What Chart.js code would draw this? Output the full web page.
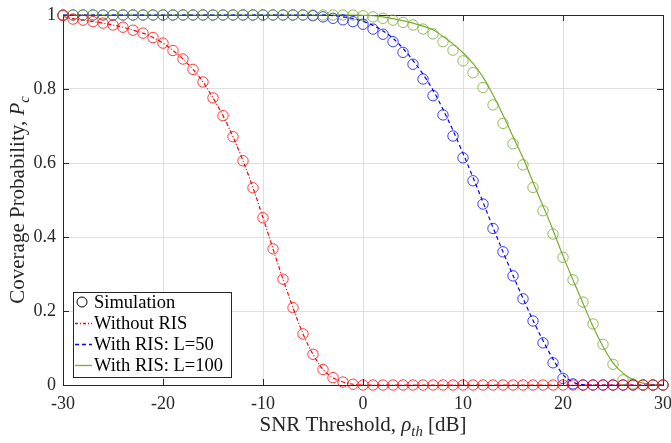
<!DOCTYPE html>
<html>
<head>
<meta charset="utf-8">
<script src="https://cdn.jsdelivr.net/npm/chart.js@4/dist/chart.umd.min.js"></script>
<style>
  html, body { margin: 0; padding: 0; background: #fff; }
</style>
</head>
<body>
<canvas id="myChart" width="671" height="443"></canvas>
<script>
// DATA
let snrDb = [-30, -29, -28, -27, -26, -25, -24, -23, -22, -21, -20, -19, -18, -17, -16, -15,
  -14, -13, -12, -11, -10, -9, -8, -7, -6, -5, -4, -3, -2, -1, 0, 1, 2, 3, 4, 5, 6, 7, 8, 9,
  10, 11, 12, 13, 14, 15, 16, 17, 18, 19, 20, 21, 22, 23, 24, 25, 26, 27, 28, 29, 30];

let xTicks = [-30, -20, -10, 0, 10, 20, 30];
let xTickLabels = ["-30", "-20", "-10", "0", "10", "20", "30"];
let yTicks = [0, 0.2, 0.4, 0.6, 0.8, 1];
let yTickLabels = ["0", "0.2", "0.4", "0.6", "0.8", "1"];

// simulation markers
let simNoRis = [0.998, 0.989, 0.986, 0.982, 0.978, 0.973, 0.967, 0.959, 0.951, 0.939,
  0.924, 0.904, 0.881, 0.853, 0.819, 0.776, 0.728, 0.671, 0.606, 0.533,
  0.452, 0.368, 0.286, 0.209, 0.138, 0.083, 0.042, 0.020, 0.008, 0.002,
  0, 0, 0, 0, 0, 0, 0, 0, 0, 0, 0, 0, 0, 0, 0, 0, 0, 0, 0, 0, 0, 0, 0, 0, 0, 0, 0, 0, 0, 0, 0];
let simL50 = [1, 1, 1, 1, 1, 1, 1, 1, 1, 1, 1, 1, 1, 1, 1, 1, 1, 1, 1, 1, 1, 1, 1, 1, 1,
  0.998, 0.995, 0.991, 0.987, 0.982, 0.975, 0.962, 0.948, 0.928, 0.899, 0.867, 0.827, 0.782,
  0.730, 0.673, 0.614, 0.552, 0.489, 0.423, 0.360, 0.295, 0.233, 0.173, 0.114, 0.060, 0.018, 0.003,
  0, 0, 0, 0, 0, 0, 0, 0, 0];
let simL100 = [1, 1, 1, 1, 1, 1, 1, 1, 1, 1, 1, 1, 1, 1, 1, 1, 1, 1, 1, 1, 1, 1, 1, 1, 1, 1, 1, 1, 1, 1,
  0.998, 0.995, 0.991, 0.986, 0.980, 0.973, 0.962, 0.949, 0.928, 0.905, 0.876, 0.844, 0.804,
  0.757, 0.707, 0.652, 0.595, 0.534, 0.471, 0.408, 0.345, 0.284, 0.224, 0.165, 0.110, 0.056,
  0.014, 0.003, 0, 0, 0];

// analytical curves
let anaNoRis = [0.996, 0.990, 0.986, 0.982, 0.978, 0.973, 0.967, 0.959, 0.951, 0.939,
  0.924, 0.904, 0.881, 0.853, 0.819, 0.776, 0.728, 0.671, 0.606, 0.533,
  0.452, 0.368, 0.286, 0.209, 0.138, 0.083, 0.042, 0.020, 0.008, 0.002,
  0, 0, 0, 0, 0, 0, 0, 0, 0, 0, 0, 0, 0, 0, 0, 0, 0, 0, 0, 0, 0, 0, 0, 0, 0, 0, 0, 0, 0, 0, 0];
let anaL50 = [1, 1, 1, 1, 1, 1, 1, 1, 1, 1, 1, 1, 1, 1, 1, 1, 1, 1, 1, 1, 1, 1, 1, 1, 1, 1, 1,
  0.998, 0.995, 0.990, 0.983, 0.972, 0.957, 0.937, 0.910, 0.877, 0.840, 0.797, 0.745, 0.688,
  0.626, 0.561, 0.494, 0.426, 0.360, 0.296, 0.234, 0.175, 0.120, 0.070, 0.028, 0.008, 0.001,
  0, 0, 0, 0, 0, 0, 0, 0];
let anaL100 = [1, 1, 1, 1, 1, 1, 1, 1, 1, 1, 1, 1, 1, 1, 1, 1, 1, 1, 1, 1, 1, 1, 1, 1, 1, 1, 1, 1, 1, 1,
  0.999, 0.998, 0.995, 0.990, 0.985, 0.978, 0.970, 0.960, 0.942, 0.922, 0.898, 0.869, 0.832,
  0.784, 0.730, 0.671, 0.614, 0.548, 0.484, 0.419, 0.349, 0.284, 0.221, 0.158, 0.104, 0.060,
  0.032, 0.014, 0.005, 0.001, 0];

let seriesNames = ["Simulation", "Without RIS", "With RIS: L=50", "With RIS: L=100"];

// STYLE
const SERIF = "'Liberation Serif', 'DejaVu Serif', serif";
const INK = "#262626";

function pts(ys) {
  return snrDb.map((x, i) => ({ x: x, y: ys[i] }));
}

function markers(ys, color) {
  return {
    data: pts(ys), showLine: false, clip: false,
    pointStyle: "circle", pointRadius: 5.2, pointHoverRadius: 5.2,
    pointBorderWidth: 1, pointBorderColor: color, pointBackgroundColor: "rgba(0,0,0,0)"
  };
}

function curve(ys, color, dash, width) {
  return {
    data: pts(ys), showLine: true, clip: false, pointRadius: 0,
    borderColor: color, borderWidth: width, borderDash: dash,
    cubicInterpolationMode: "monotone", fill: false
  };
}

// rich text helper for subscripts / italics
function drawRich(ctx, parts, size, cx, baseY) {
  let w = 0;
  parts.forEach(p => {
    let fs = p.sub ? size * 0.7 : size;
    ctx.font = (p.italic ? "italic " : "") + fs + "px " + SERIF;
    p.w = ctx.measureText(p.t).width;
    w += p.w;
  });
  let x = cx - w / 2;
  ctx.textAlign = "left";
  ctx.textBaseline = "alphabetic";
  parts.forEach(p => {
    let fs = p.sub ? size * 0.7 : size;
    ctx.font = (p.italic ? "italic " : "") + fs + "px " + SERIF;
    ctx.fillText(p.t, x, baseY + (p.sub ? size * 0.22 : 0));
    x += p.w;
  });
}

const framePlugin = {
  id: "frame",
  beforeDatasetsDraw(chart) {
    let ctx = chart.ctx;
    let a = chart.chartArea;
    let xs = chart.scales.x, ys = chart.scales.y;
    ctx.save();
    ctx.strokeStyle = INK;
    ctx.lineWidth = 1;
    ctx.strokeRect(a.left + 0.5, a.top + 0.5, a.right - a.left, a.bottom - a.top);
    // inward ticks on all four sides
    ctx.beginPath();
    xTicks.forEach(v => {
      let px = Math.round(xs.getPixelForValue(v)) + 0.5;
      ctx.moveTo(px, a.bottom); ctx.lineTo(px, a.bottom - 6);
      ctx.moveTo(px, a.top); ctx.lineTo(px, a.top + 6);
    });
    yTicks.forEach(v => {
      let py = Math.round(ys.getPixelForValue(v)) + 0.5;
      ctx.moveTo(a.left, py); ctx.lineTo(a.left + 6, py);
      ctx.moveTo(a.right, py); ctx.lineTo(a.right - 6, py);
    });
    ctx.stroke();
    ctx.restore();
  },
  afterDraw(chart) {
    let ctx = chart.ctx;
    let a = chart.chartArea;
    ctx.save();
    ctx.fillStyle = INK;

    // axis titles
    drawRich(ctx, [
      { t: "SNR Threshold, " }, { t: "\u03C1", italic: true },
      { t: "th", italic: true, sub: true }, { t: " [dB]" }
    ], 21, (a.left + a.right) / 2, 431);

    ctx.save();
    ctx.translate(24, (a.top + a.bottom) / 2);
    ctx.rotate(-Math.PI / 2);
    drawRich(ctx, [
      { t: "Coverage Probability, " }, { t: "P", italic: true },
      { t: "c", italic: true, sub: true }
    ], 21, 0, 0);
    ctx.restore();

    // legend
    let lx = a.left + 10, ly = 292, lw = 158, lh = 85;
    ctx.fillStyle = "#fff";
    ctx.fillRect(lx, ly, lw, lh);
    ctx.strokeStyle = INK;
    ctx.lineWidth = 1;
    ctx.strokeRect(lx + 0.5, ly + 0.5, lw, lh);

    let rowY = [302, 323, 344, 365];
    let sx = lx + 2, ex = lx + 19;

    ctx.strokeStyle = "#000";
    ctx.beginPath();
    ctx.arc(lx + 9, rowY[0], 5, 0, Math.PI * 2);
    ctx.stroke();

    let styles = [
      { c: "#ff0000", d: [3, 2, 1, 2], w: 1.3 },
      { c: "#0000ff", d: [4, 3], w: 1.3 },
      { c: "#77ac30", d: [], w: 1.3 }
    ];
    styles.forEach((s, i) => {
      ctx.strokeStyle = s.c;
      ctx.lineWidth = s.w;
      ctx.setLineDash(s.d);
      ctx.beginPath();
      ctx.moveTo(sx, rowY[i + 1] + 0.5);
      ctx.lineTo(ex, rowY[i + 1] + 0.5);
      ctx.stroke();
    });
    ctx.setLineDash([]);

    ctx.fillStyle = "#000";
    ctx.font = "18.5px " + SERIF;
    ctx.textAlign = "left";
    ctx.textBaseline = "middle";
    seriesNames.forEach((name, i) => {
      ctx.fillText(name, lx + 21, rowY[i] + 1);
    });
    ctx.restore();
  }
};

// CHART
let ctx = document.getElementById("myChart").getContext("2d");
let chart = new Chart(ctx, {
  type: "scatter",
  data: {
    datasets: [
      markers(simNoRis, "rgba(255,0,0,0.75)"),
      markers(simL100, "rgba(119,172,48,0.8)"),
      markers(simL50, "rgba(0,0,255,0.75)"),
      curve(anaNoRis, "#ff0000", [4, 2, 1, 2], 1.2),
      curve(anaL50, "#0000ff", [4, 3], 1.2),
      curve(anaL100, "#77ac30", [], 1.2)
    ]
  },
  options: {
    responsive: false,
    animation: false,
    devicePixelRatio: 1,
    layout: { padding: { top: 15, right: 8, left: 0, bottom: 0 } },
    plugins: { legend: { display: false }, tooltip: { enabled: false } },
    scales: {
      x: {
        type: "linear", min: -30, max: 30,
        afterBuildTicks: s => { s.ticks = xTicks.map(v => ({ value: v })); },
        afterFit: s => { s.height = 58; s.paddingLeft = 0; s.paddingRight = 0; },
        ticks: {
          color: INK, font: { family: SERIF, size: 18 }, padding: 8, maxRotation: 0,
          callback: v => xTickLabels[xTicks.indexOf(v)]
        },
        grid: { color: "#dfdfdf", drawTicks: false },
        border: { display: false }
      },
      y: {
        type: "linear", min: 0, max: 1,
        afterBuildTicks: s => { s.ticks = yTicks.map(v => ({ value: v })); },
        afterFit: s => { s.width = 63; s.paddingTop = 0; s.paddingBottom = 0; },
        ticks: {
          color: INK, font: { family: SERIF, size: 18 }, padding: 7,
          callback: v => yTickLabels[yTicks.indexOf(v)]
        },
        grid: { color: "#dfdfdf", drawTicks: false },
        border: { display: false }
      }
    }
  },
  plugins: [framePlugin]
});
</script>
</body>
</html>
